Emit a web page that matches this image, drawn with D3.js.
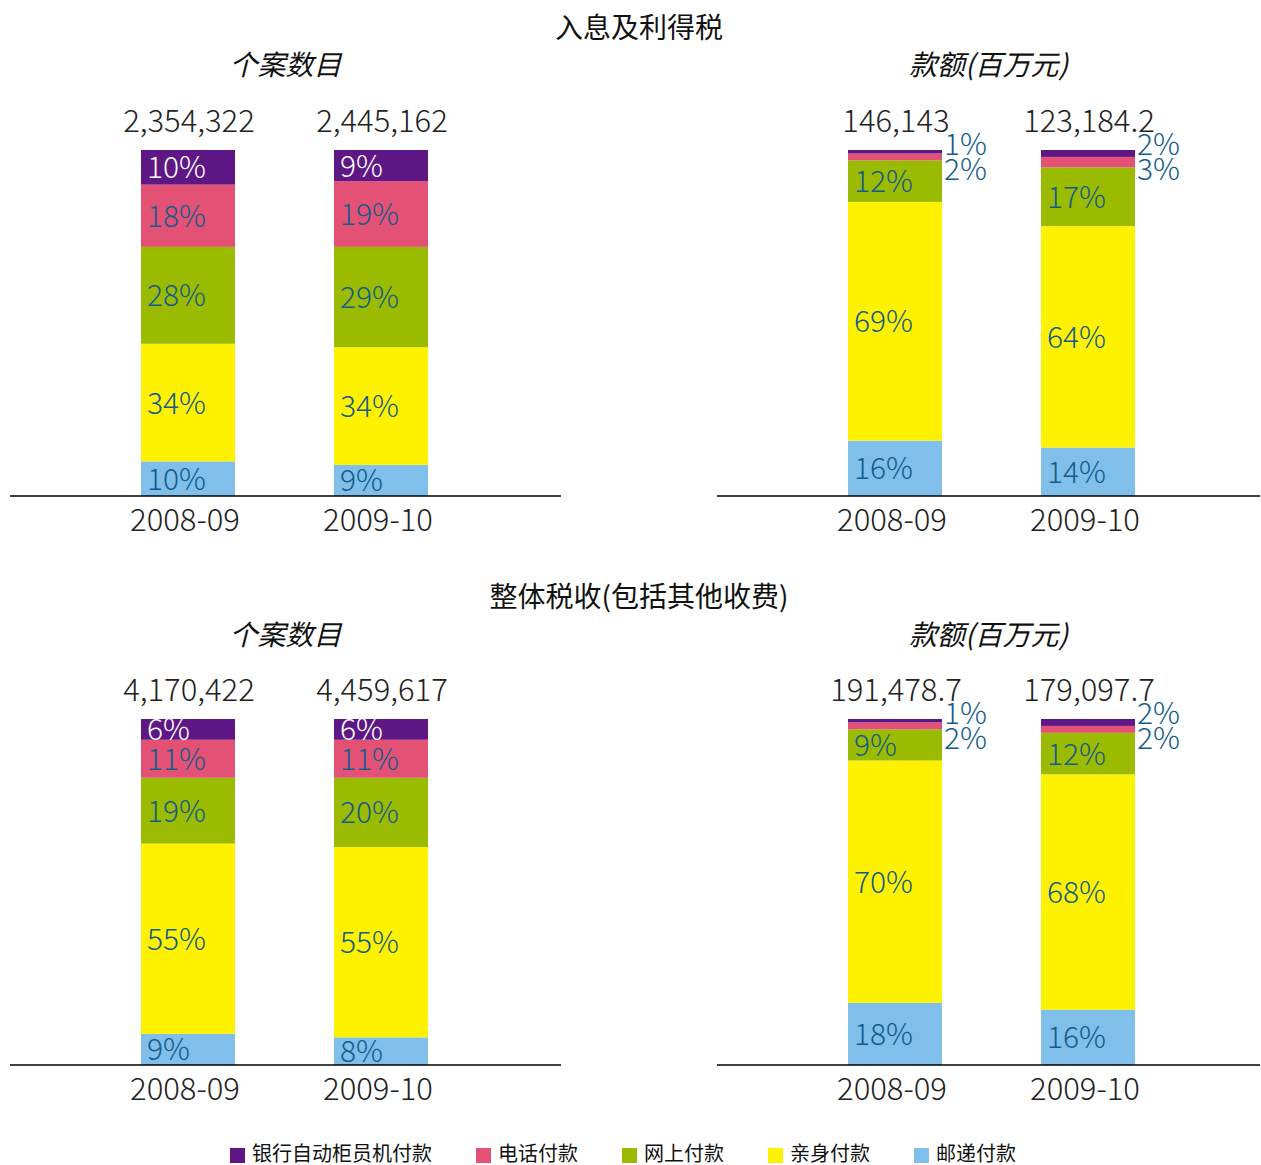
<!DOCTYPE html>
<html><head><meta charset="utf-8">
<script src="https://cdn.jsdelivr.net/npm/d3@7"></script>
<style>body{margin:0;background:#fff}</style></head>
<body>
<svg id="c" width="1261" height="1165"></svg>
<script>
const categories = ["2008-09", "2009-10"];
const seriesNames = ["银行自动柜员机付款", "电话付款", "网上付款", "亲身付款", "邮递付款"];
const seriesColors = ["#5e1785", "#e35275", "#9bbb00", "#fff200", "#7fbfe9"];
const groupTitles = ["入息及利得税", "整体税收(包括其他收费)"];
const panelTitles = ["个案数目", "款额(百万元)"];
// shares (%) per category, in legend order (ATM, phone, internet, in person, post)
const salariesCasesShares = [[10, 18, 28, 34, 10], [9, 19, 29, 34, 9]];
const salariesAmountShares = [[1, 2, 12, 69, 16], [2, 3, 17, 64, 14]];
const overallCasesShares = [[6, 11, 19, 55, 9], [6, 11, 20, 55, 8]];
const overallAmountShares = [[1, 2, 9, 70, 18], [2, 2, 12, 68, 16]];
const salariesCasesTotals = ["2,354,322", "2,445,162"];
const salariesAmountTotals = ["146,143", "123,184.2"];
const overallCasesTotals = ["4,170,422", "4,459,617"];
const overallAmountTotals = ["191,478.7", "179,097.7"];

const svg = d3.select("#c");
const CJK = "'Noto Sans CJK SC', 'Noto Sans', sans-serif";
const NUM = "'Noto Sans CJK SC', 'Liberation Sans', sans-serif";
const labelBlue = "#135c8c";

const rows = [
  {title: groupTitles[0], titleY: 38, subY: 75, top: 150, base: 496,
   panels: [{shares: salariesCasesShares, totals: salariesCasesTotals},
            {shares: salariesAmountShares, totals: salariesAmountTotals}]},
  {title: groupTitles[1], titleY: 607, subY: 645, top: 719, base: 1065,
   panels: [{shares: overallCasesShares, totals: overallCasesTotals},
            {shares: overallAmountShares, totals: overallAmountTotals}]}
];
const panelX = [[10, 561], [717, 1260]];

rows.forEach(row => {
  svg.append("text").attr("x", 639).attr("y", row.titleY)
    .attr("text-anchor", "middle").style("font-family", CJK)
    .style("font-size", "28px").style("font-weight", 400).attr("fill", "#111")
    .text(row.title);

  row.panels.forEach((p, pi) => {
    const [x0, x1] = panelX[pi];
    const g = svg.append("g");
    g.append("text").attr("x", (x0 + x1) / 2).attr("y", row.subY)
      .attr("text-anchor", "middle").style("font-family", CJK)
      .style("font-size", "28px").style("font-style", "italic").attr("fill", "#111")
      .text(panelTitles[pi]);

    const x = d3.scaleBand().domain(categories)
      .range([x0 + 131, x0 + 418]).paddingInner(0.513).paddingOuter(0);
    const y = d3.scaleLinear().domain([0, 100]).range([row.base, row.top]);

    const data = categories.map((c, i) => Object.assign({cat: c}, p.shares[i]));
    const keys = [4, 3, 2, 1, 0];
    const stack = d3.stack().keys(keys).value((d, k) => d[k])(data);

    stack.forEach(layer => {
      const k = layer.key;
      g.selectAll(null).data(layer).enter().append("rect")
        .attr("x", d => x(d.data.cat))
        .attr("width", x.bandwidth())
        .attr("y", d => y(d[1]))
        .attr("height", d => y(d[0]) - y(d[1]))
        .attr("fill", seriesColors[k]);
    });
    stack.forEach(layer => {
      const k = +layer.key;
      layer.forEach(d => {
        const v = d.data[k];
        const t = g.append("text").style("font-family", NUM).style("font-size", "30px")
          .style("font-weight", 300).text(v + "%");
        if (v > 3) {
          t.attr("x", x(d.data.cat) + 6)
            .attr("y", (y(d[0]) + y(d[1])) / 2 + 11)
            .attr("fill", k === 0 ? "#fff" : labelBlue);
        } else {
          const yt = y(100);
          t.attr("x", x(d.data.cat) + x.bandwidth() + 2)
            .attr("y", k === 0 ? yt - 6 + 11 : yt + 19 + 11)
            .attr("fill", labelBlue);
        }
      });
    });

    // totals above bars
    g.selectAll(null).data(categories).enter().append("text")
      .attr("x", d => x(d) + x.bandwidth() / 2 + 1)
      .attr("y", y(100) - 18)
      .attr("text-anchor", "middle").style("font-family", NUM)
      .style("font-size", "31px").style("font-weight", 300).attr("fill", "#222")
      .text((d, i) => p.totals[i]);

    // baseline
    g.append("line").attr("x1", x0).attr("x2", x1)
      .attr("y1", row.base).attr("y2", row.base)
      .attr("stroke", "#000").attr("stroke-width", 1.5);

    const ax = g.append("g").attr("transform", `translate(-3,${row.base})`)
      .call(d3.axisBottom(x).tickSize(0).tickPadding(13));
    ax.select(".domain").remove();
    ax.selectAll("text").style("font-family", NUM).style("font-size", "31px")
      .style("font-weight", 300).attr("fill", "#222");
  });
});

// legend
let lx = 230;
seriesNames.forEach((n, i) => {
  svg.append("rect").attr("x", lx).attr("y", 1148).attr("width", 15).attr("height", 15)
    .attr("fill", seriesColors[i]);
  const t = svg.append("text").attr("x", lx + 22).attr("y", 1161)
    .style("font-family", CJK).style("font-size", "20px").attr("fill", "#111").text(n);
  lx += 22 + t.node().getComputedTextLength() + 44;
});
</script>
</body></html>
